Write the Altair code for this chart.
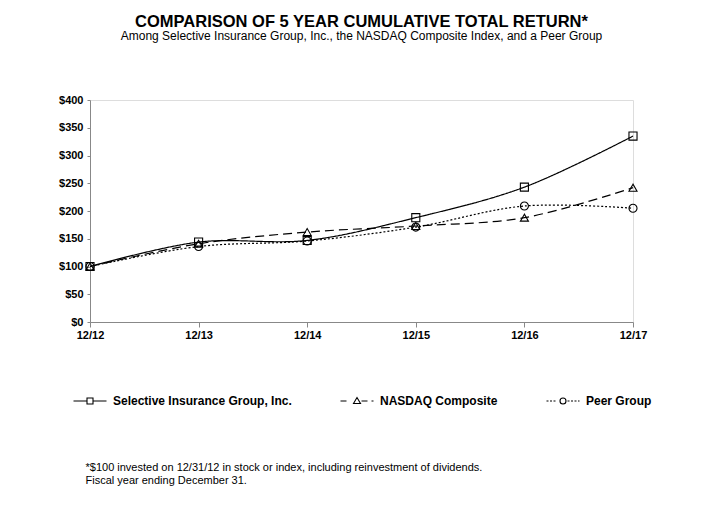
import altair as alt
import pandas as pd

years = ["12/12", "12/13", "12/14", "12/15", "12/16", "12/17"]
series_names = ["Selective Insurance Group, Inc.", "NASDAQ Composite", "Peer Group"]
selective = [100, 144, 147, 188, 243, 335]
nasdaq = [100, 141, 162, 173, 188, 242]
peer = [100, 136, 146, 171, 209, 205]
y_ticks = [0, 50, 100, 150, 200, 250, 300, 350, 400]
footnote = ["*$100 invested on 12/31/12 in stock or index, including reinvestment of dividends.",
            "Fiscal year ending December 31."]

rows = []
for name, vals in zip(series_names, [selective, nasdaq, peer]):
    for yr, v in zip(years, vals):
        rows.append({"year": yr, "series": name, "value": v})
df = pd.DataFrame(rows)

FONT = "Liberation Sans"

x_enc = alt.X("year:O", sort=years,
              scale=alt.Scale(type="point", padding=0),
              axis=alt.Axis(title=footnote, titleAnchor="start", titleAlign="left",
                            titleX=-5, titleY=139, titleFontWeight="normal",
                            titleFontSize=11, titleFont=FONT, titleColor="black",
                            titleBaseline="top", titleLineHeight=13,
                            labelAngle=0, labelFont=FONT, labelFontWeight="bold",
                            labelFontSize=11, labelColor="black", labelPadding=2,
                            domainColor="#888888", tickColor="#888888", tickSize=5,
                            labelFlush=False))
y_enc = alt.Y("value:Q", scale=alt.Scale(domain=[0, 400], nice=False),
              axis=alt.Axis(title=None, values=y_ticks, labelExpr="'$' + datum.value",
                            labelFont=FONT, labelFontWeight="bold", labelFontSize=11,
                            labelColor="black", grid=False, domainColor="#888888",
                            tickColor="#888888", tickSize=3, labelPadding=4))

base = alt.Chart(df)

lines = base.mark_line(interpolate="catmull-rom", color="black", strokeWidth=1.2).encode(
    x=x_enc, y=y_enc,
    strokeDash=alt.StrokeDash("series:N",
                              scale=alt.Scale(domain=series_names, range=[[1, 0], [9, 5], [2, 2]]),
                              legend=None),
    detail="series:N",
)

points = base.mark_point(filled=False, color="black", size=65, strokeWidth=1.1, opacity=1).encode(
    x=x_enc, y=y_enc,
    shape=alt.Shape("series:N",
                    scale=alt.Scale(domain=series_names, range=["square", "triangle-up", "circle"]),
                    legend=None),
)

sel_path = "M-3.3,0H-0.6M0.6,0H3.3M-0.6,-0.6H0.6V0.6H-0.6Z"
nas_path = "M-3.3,0H-2.1M-0.7,0.5L0,-0.7L0.7,0.5Z M0.9,0H2.1M2.9,0H3.3"
peer_path = ("M-3.3,0H-2.9M-2.6,0H-2.2M-1.9,0H-1.5"
             "M-0.6,0A0.6,0.6 0 1,0 0.6,0A0.6,0.6 0 1,0 -0.6,0"
             "M0.9,0H1.3M1.6,0H2M2.3,0H2.7M3,0H3.3")

legend_layer = base.mark_point(filled=False, color="black", size=100, opacity=0).encode(
    x=x_enc, y=y_enc,
    shape=alt.Shape("series:N",
                    scale=alt.Scale(domain=series_names, range=[sel_path, nas_path, peer_path]),
                    legend=alt.Legend(title=None, orient="none", legendX=-6, legendY=295,
                                      direction="horizontal", columns=3, gridAlign="none",
                                      columnPadding=46, symbolSize=100, symbolOpacity=1,
                                      symbolStrokeColor="black", symbolStrokeWidth=1.1,
                                      symbolFillColor="transparent",
                                      labelFont=FONT, labelFontSize=12, labelFontWeight="bold",
                                      labelColor="black", labelOffset=17, labelLimit=400)),
)

chart = alt.layer(lines, points, legend_layer).resolve_scale(shape="independent").properties(
    width=543, height=222,
    autosize=alt.AutoSizeParams(type="none"),
    padding={"left": 82, "top": 92, "right": 66, "bottom": 180},
    title=alt.TitleParams(
        text="COMPARISON OF 5 YEAR CUMULATIVE TOTAL RETURN*",
        subtitle="Among Selective Insurance Group, Inc.,  the NASDAQ  Composite Index, and a Peer Group",
        font=FONT, fontSize=16.5, fontWeight="bold", color="black",
        subtitleFont=FONT, subtitleFontSize=12, subtitleColor="black", subtitlePadding=1,
        anchor="middle", offset=52,
    ),
).configure_view(stroke=None).configure(background="white")

chart.save("out.html", embed_options={"renderer": "svg", "actions": False})
